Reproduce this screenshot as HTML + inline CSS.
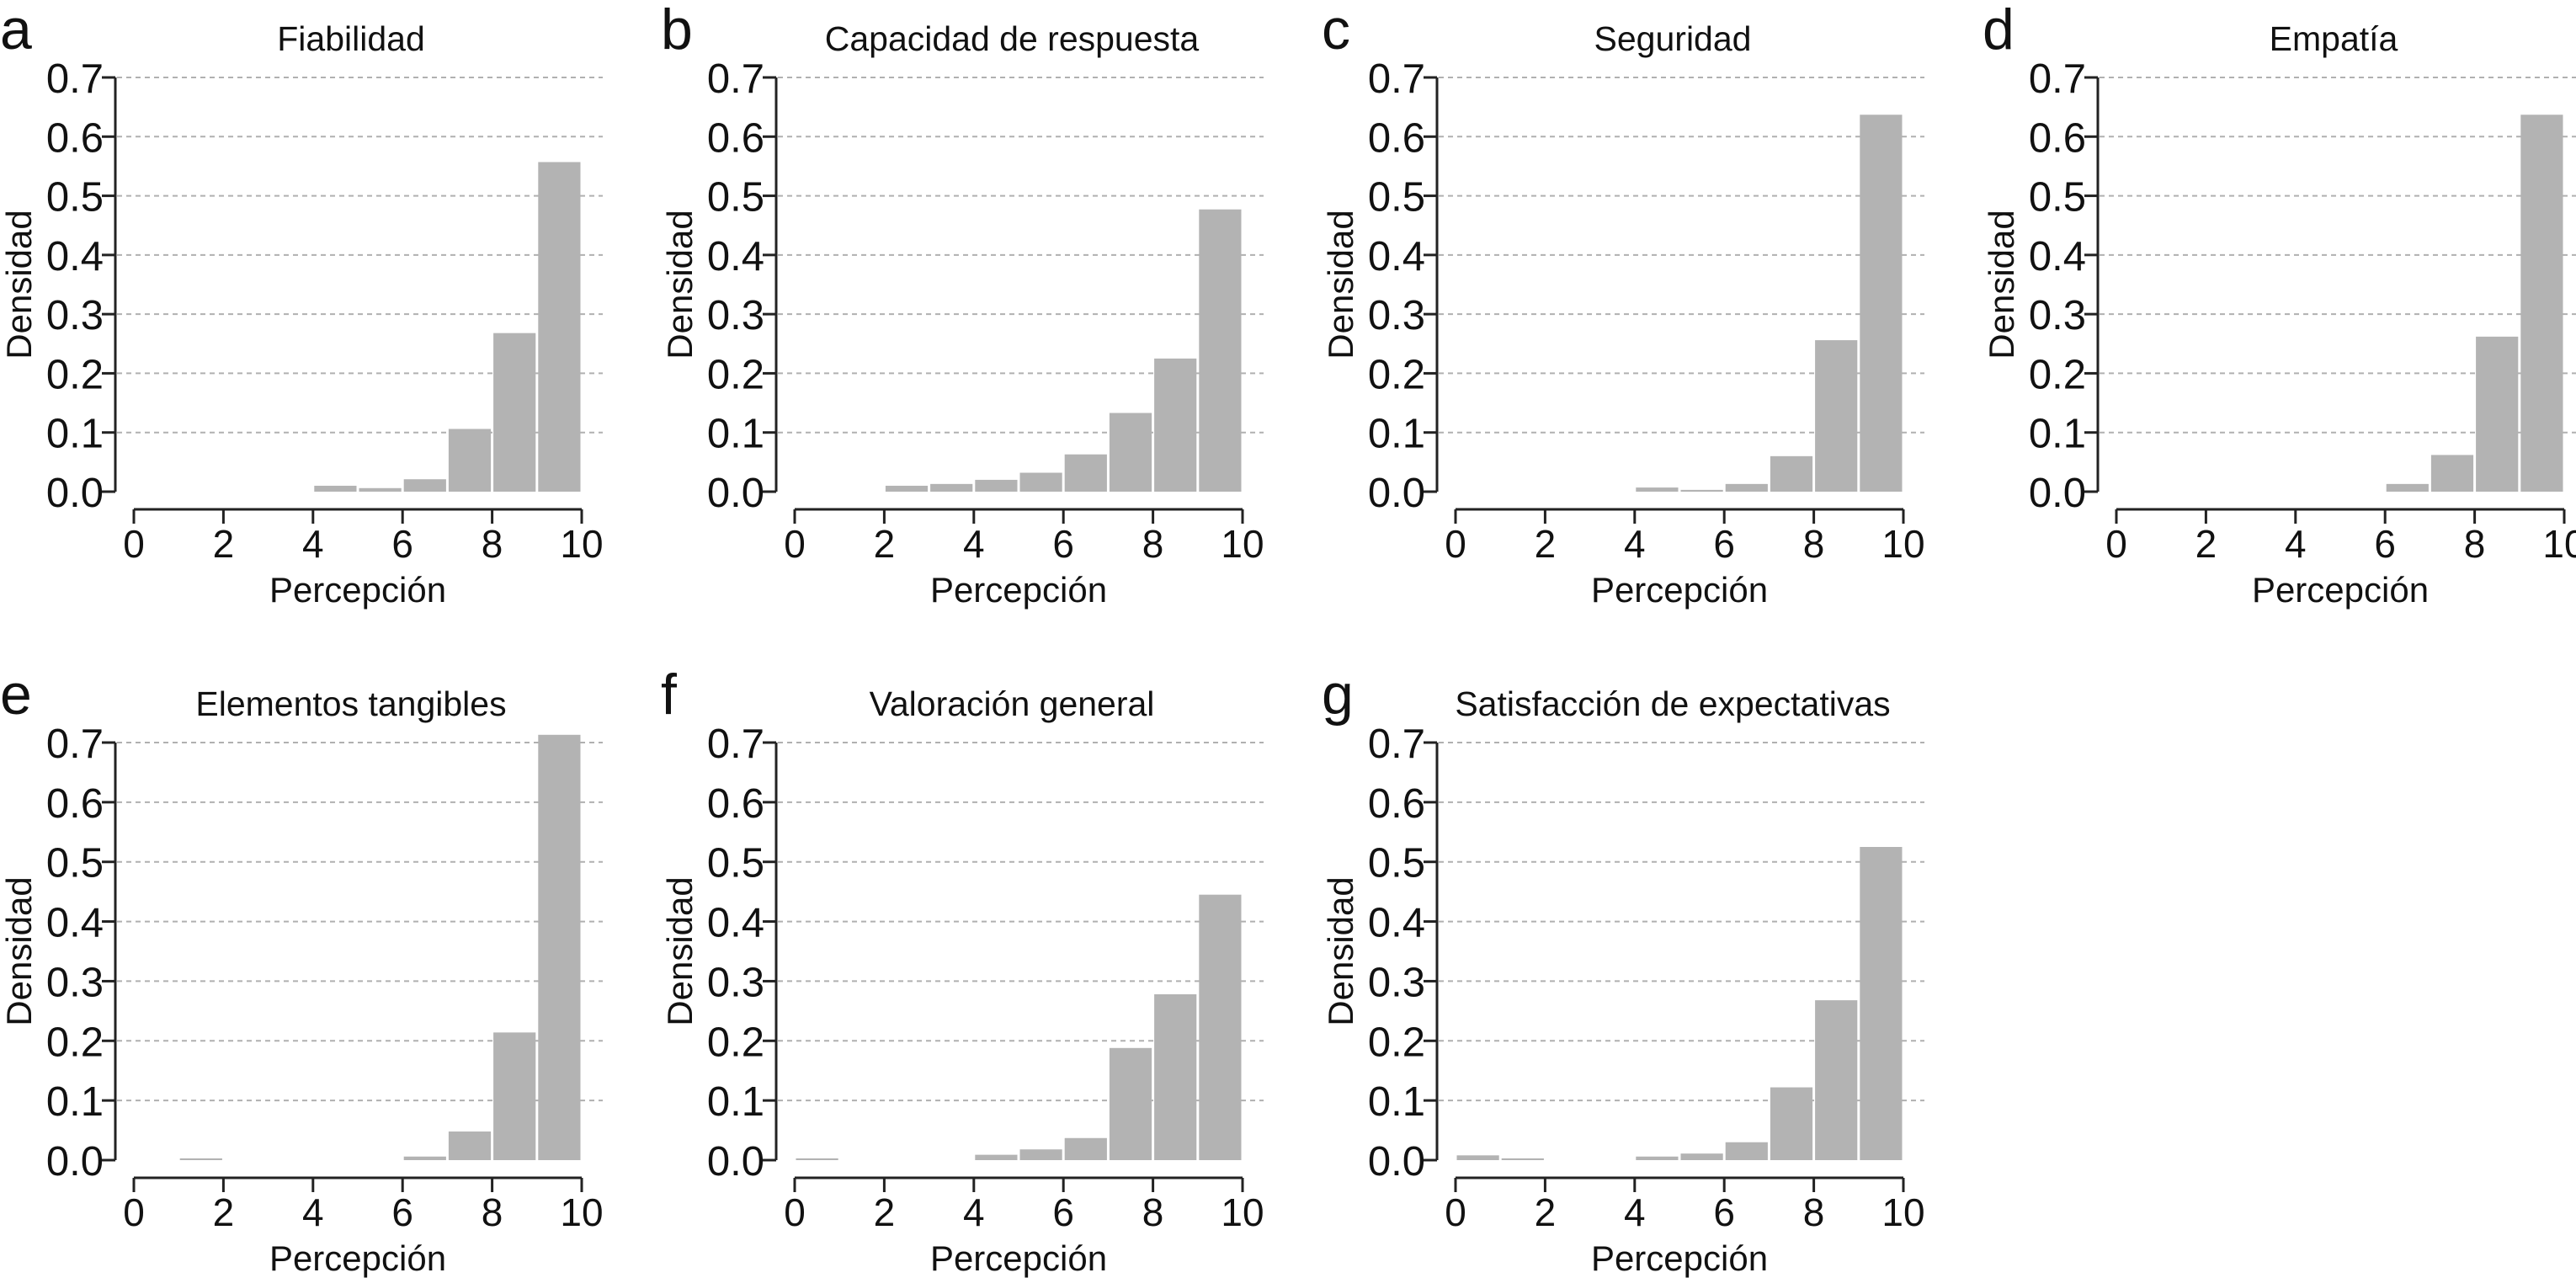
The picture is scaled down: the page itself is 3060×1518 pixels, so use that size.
<!DOCTYPE html>
<html><head><meta charset="utf-8"><style>
html,body{margin:0;padding:0;background:#fff;}
svg{display:block;font-family:"Liberation Sans",Arial,sans-serif;}
</style></head><body>
<svg id="chart" width="3060" height="1518" viewBox="0 0 3060 1518" xmlns="http://www.w3.org/2000/svg"></svg>
<script>
const panelLetters = ["a","b","c","d","e","f","g"];
const panelTitles = ["Fiabilidad","Capacidad de respuesta","Seguridad","Empatía","Elementos tangibles","Valoración general","Satisfacción de expectativas"];
const binEdges = [0,1,2,3,4,5,6,7,8,9,10];
const densA = [0,0,0,0,0.010,0.006,0.021,0.106,0.268,0.557];
const densB = [0,0,0.010,0.013,0.020,0.032,0.063,0.133,0.225,0.477];
const densC = [0,0,0,0,0.007,0.003,0.013,0.060,0.256,0.637];
const densD = [0,0,0,0,0,0,0.013,0.062,0.262,0.637];
const densE = [0,0.003,0,0,0,0,0.006,0.048,0.214,0.713];
const densF = [0.003,0,0,0,0.009,0.018,0.037,0.188,0.278,0.445];
const densG = [0.008,0.003,0,0,0.006,0.011,0.030,0.122,0.268,0.525];
const yTicks = [0,0.1,0.2,0.3,0.4,0.5,0.6,0.7];
const yTickLabels = ["0.0","0.1","0.2","0.3","0.4","0.5","0.6","0.7"];
const xTicks = [0,2,4,6,8,10];
const allDens = [densA,densB,densC,densD,densE,densF,densG];

const NS="http://www.w3.org/2000/svg";
const svg=document.getElementById('chart');
function mk(tag,attrs,parent){const e=document.createElementNS(NS,tag);for(const k in attrs)e.setAttribute(k,attrs[k]);(parent||svg).appendChild(e);return e;}

allDens.forEach((dens,i)=>{
  const col=i%4,row=Math.floor(i/4);
  const X0=159+785*col, W=532;
  const base=row?1378:584, top=row?882:92;
  const xs=v=>X0+v/10*W;
  const ys=v=>base-(v/0.7)*(base-top);
  const g=mk('g',{});
  
  
  yTicks.forEach(t=>{ if(t===0) return;
    const l=mk('line',{x1:X0-20,x2:X0+W+25,y1:ys(t),y2:ys(t),stroke:'#b0b0b0','stroke-width':2,'stroke-dasharray':'6,5'},g);
    
    
  });
  dens.forEach((d,k)=>{ if(d<=0) return;
    const r=mk('rect',{x:xs(binEdges[k])+1.5,y:ys(d),width:xs(binEdges[k+1])-xs(binEdges[k])-3,height:base-ys(d),fill:'#b3b3b3'},g);
    
    
  });
  const ax=X0-22;
  const ya=mk('line',{x1:ax,x2:ax,y1:ys(0.7),y2:ys(0),stroke:'#222','stroke-width':3},g);
  
  
  yTicks.forEach((t,k)=>{
    mk('line',{x1:ax-16,x2:ax,y1:ys(t),y2:ys(t),stroke:'#222','stroke-width':3},g);
    const tx=mk('text',{x:ax-14,y:ys(t)+18,'font-size':49,'text-anchor':'end',fill:'#111'},g);
    tx.textContent=yTickLabels[k];
    
    
  });
  const xaY=base+21;
  const xa=mk('line',{x1:xs(0),x2:xs(10),y1:xaY,y2:xaY,stroke:'#222','stroke-width':3},g);
  
  
  xTicks.forEach(t=>{
    mk('line',{x1:xs(t),x2:xs(t),y1:xaY,y2:xaY+17,stroke:'#222','stroke-width':3},g);
    const tx=mk('text',{x:xs(t),y:xaY+57,'font-size':46,'text-anchor':'middle',fill:'#111'},g);
    tx.textContent=t;
    
    
  });
  const xl=mk('text',{x:X0+W/2,y:xaY+110,'font-size':42,'text-anchor':'middle',fill:'#111'},g);
  xl.textContent='Percepción';
  
  
  const yl=mk('text',{x:0,y:0,'font-size':42,'text-anchor':'middle',fill:'#111',transform:`translate(${X0-122},${(ys(0)+ys(0.7))/2}) rotate(-90)`},g);
  yl.textContent='Densidad';
  
  
  const ti=mk('text',{x:X0+W/2-8,y:top-32,'font-size':41,'text-anchor':'middle',fill:'#111'},g);
  ti.textContent=panelTitles[i];
  
  
  const le=mk('text',{x:X0-159,y:top-34,'font-size':68,fill:'#111'},g);
  le.textContent=panelLetters[i];
  
  
});
</script>
</body></html>
